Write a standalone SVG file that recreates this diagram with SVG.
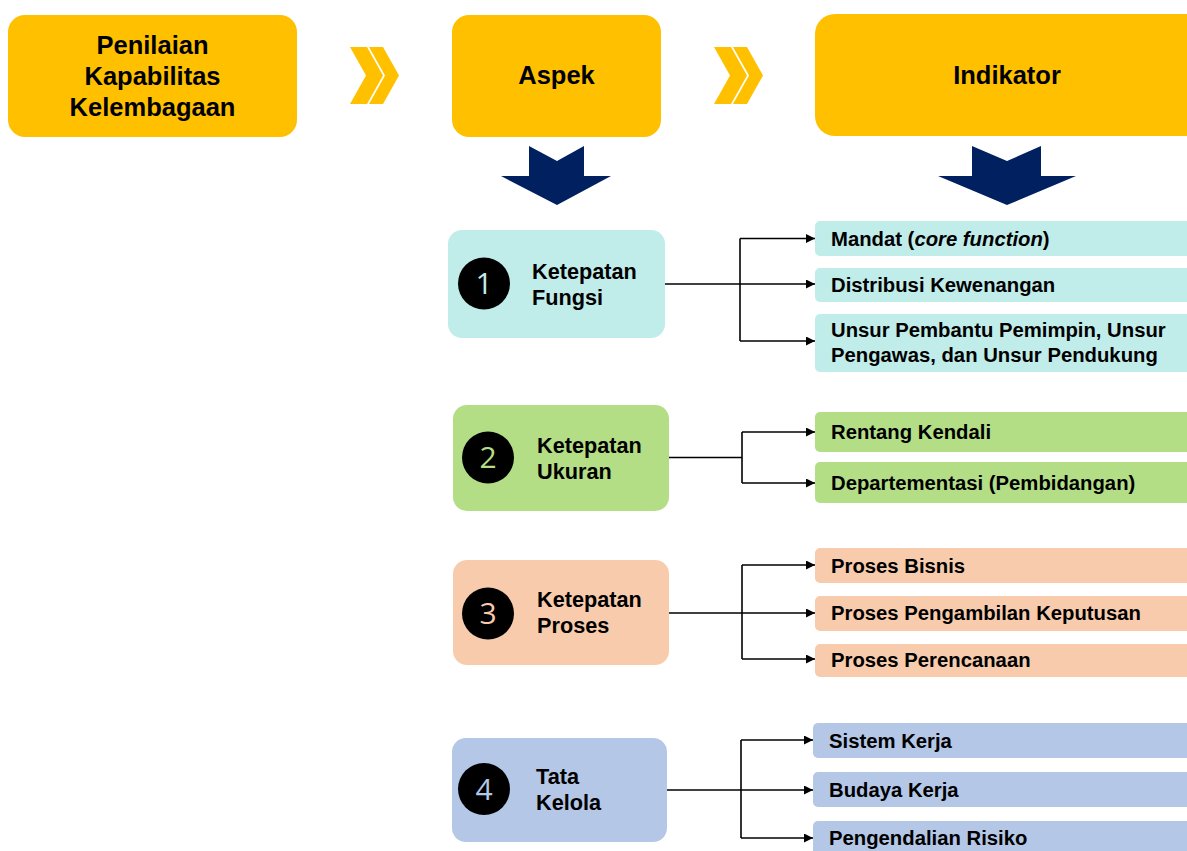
<svg xmlns="http://www.w3.org/2000/svg" width="1187" height="851" viewBox="0 0 1187 851">
<defs>
<marker id="ah" viewBox="0 0 10 10" refX="10" refY="5" markerWidth="10" markerHeight="9" markerUnits="userSpaceOnUse" orient="auto">
<path d="M0,0 L10,5 L0,10 z" fill="#000"/>
</marker>
<style>
.hdr{fill:#FFC000}
.ht{font-family:"Liberation Sans",Arial,sans-serif;font-weight:bold;font-size:25.5px;fill:#000;text-anchor:middle}
.chev{fill:#FFC000}
.down{fill:#002060}
.at{font-family:"Liberation Sans",Arial,sans-serif;font-weight:bold;font-size:21.7px;fill:#000}
.it{font-family:"Liberation Sans",Arial,sans-serif;font-weight:bold;font-size:20.3px;fill:#000}
.num{font-family:"Open Sans","Noto Sans",sans-serif;font-size:30px;text-anchor:middle}
.c1{fill:#C0ECEA}
.c2{fill:#B3DE86}
.c3{fill:#F8CBAD}
.c4{fill:#B4C7E7}
.conn{fill:none;stroke:#000;stroke-width:1.6}
</style>
</defs>
<rect width="1187" height="851" fill="#fff"/>

<g id="header-penilaian">
<rect class="hdr" x="8" y="15" width="289" height="122" rx="17"/>
<text class="ht" x="152.5" y="54">Penilaian</text>
<text class="ht" x="152.5" y="85">Kapabilitas</text>
<text class="ht" x="152.5" y="116">Kelembagaan</text>
</g>
<g id="chevron-1">
<polygon class="chev" points="350,47 367,47 383,75.5 367,104 350,104 366,75.5"/>
<polygon class="chev" points="369,47 383,47 399,75.5 383,104 369,104 385,75.5"/>
</g>
<g id="header-aspek">
<rect class="hdr" x="452" y="15" width="209" height="122" rx="17"/>
<text class="ht" x="556.5" y="84">Aspek</text>
</g>
<g id="chevron-2">
<polygon class="chev" points="714,47 731,47 747,75.5 731,104 714,104 730,75.5"/>
<polygon class="chev" points="733,47 747,47 763,75.5 747,104 733,104 749,75.5"/>
</g>
<g id="header-indikator">
<rect class="hdr" x="815" y="14" width="400" height="122" rx="20"/>
<text class="ht" x="1007" y="84">Indikator</text>
</g>
<g id="down-arrow-1">
<polygon class="down" points="529,146 557,161 584,146 584,176 611,176 557,205 501,176 529,176"/>
</g>
<g id="down-arrow-2">
<polygon class="down" points="972,146 1007,161 1041,146 1041,176 1076,176 1007,205 938,176 972,176"/>
</g>

<g id="aspek-1">
<rect class="c1" x="448" y="230" width="217" height="108" rx="14"/>
<circle cx="484" cy="283.5" r="26" fill="#000"/>
<text class="num c1" x="484" y="294">1</text>
<text class="at" x="532" y="279">Ketepatan</text>
<text class="at" x="532" y="305">Fungsi</text>
</g>
<g id="ind-1a">
<rect class="c1" x="815" y="221" width="390" height="35" rx="5"/>
<text class="it" x="831" y="246">Mandat (<tspan font-style="italic">core function</tspan>)</text>
</g>
<g id="ind-1b">
<rect class="c1" x="815" y="268" width="390" height="34" rx="5"/>
<text class="it" x="831" y="292">Distribusi Kewenangan</text>
</g>
<g id="ind-1c">
<rect class="c1" x="815" y="314" width="390" height="58" rx="5"/>
<text class="it" x="831" y="337">Unsur Pembantu Pemimpin, Unsur</text>
<text class="it" x="831" y="362">Pengawas, dan Unsur Pendukung</text>
</g>

<g id="aspek-2">
<rect class="c2" x="453" y="405" width="216" height="106" rx="14"/>
<circle cx="488" cy="457.5" r="26" fill="#000"/>
<text class="num c2" x="488" y="468">2</text>
<text class="at" x="537" y="453">Ketepatan</text>
<text class="at" x="537" y="479">Ukuran</text>
</g>
<g id="ind-2a">
<rect class="c2" x="815" y="412" width="390" height="40" rx="5"/>
<text class="it" x="831" y="439">Rentang Kendali</text>
</g>
<g id="ind-2b">
<rect class="c2" x="815" y="462" width="390" height="41" rx="5"/>
<text class="it" x="831" y="490">Departementasi (Pembidangan)</text>
</g>

<g id="aspek-3">
<rect class="c3" x="453" y="560" width="216" height="105" rx="14"/>
<circle cx="488" cy="613.5" r="26" fill="#000"/>
<text class="num c3" x="488" y="624">3</text>
<text class="at" x="537" y="607">Ketepatan</text>
<text class="at" x="537" y="633">Proses</text>
</g>
<g id="ind-3a">
<rect class="c3" x="815" y="548" width="390" height="35" rx="5"/>
<text class="it" x="831" y="573">Proses Bisnis</text>
</g>
<g id="ind-3b">
<rect class="c3" x="815" y="596" width="390" height="35" rx="5"/>
<text class="it" x="831" y="620">Proses Pengambilan Keputusan</text>
</g>
<g id="ind-3c">
<rect class="c3" x="815" y="644" width="390" height="33" rx="5"/>
<text class="it" x="831" y="667">Proses Perencanaan</text>
</g>

<g id="aspek-4">
<rect class="c4" x="452" y="738" width="215" height="104" rx="14"/>
<circle cx="484" cy="789" r="26" fill="#000"/>
<text class="num c4" x="484" y="799.5">4</text>
<text class="at" x="536" y="784">Tata</text>
<text class="at" x="536" y="810">Kelola</text>
</g>
<g id="ind-4a">
<rect class="c4" x="813" y="723" width="390" height="35" rx="5"/>
<text class="it" x="829" y="748">Sistem Kerja</text>
</g>
<g id="ind-4b">
<rect class="c4" x="813" y="772" width="390" height="35" rx="5"/>
<text class="it" x="829" y="797">Budaya Kerja</text>
</g>
<g id="ind-4c">
<rect class="c4" x="813" y="821" width="390" height="40" rx="5"/>
<text class="it" x="829" y="845">Pengendalian Risiko</text>
</g>

<g id="connectors">
<path class="conn" d="M665,284 L740,284"/>
<path class="conn" d="M740,238.5 L740,341"/>
<path class="conn" d="M740,238.5 L815,238.5" marker-end="url(#ah)"/>
<path class="conn" d="M740,284 L815,284" marker-end="url(#ah)"/>
<path class="conn" d="M740,341 L815,341" marker-end="url(#ah)"/>

<path class="conn" d="M669,457.5 L742,457.5"/>
<path class="conn" d="M742,432 L742,483"/>
<path class="conn" d="M742,432 L815,432" marker-end="url(#ah)"/>
<path class="conn" d="M742,483 L815,483" marker-end="url(#ah)"/>

<path class="conn" d="M669,613 L742,613"/>
<path class="conn" d="M742,565 L742,659"/>
<path class="conn" d="M742,565 L815,565" marker-end="url(#ah)"/>
<path class="conn" d="M742,613 L815,613" marker-end="url(#ah)"/>
<path class="conn" d="M742,659 L815,659" marker-end="url(#ah)"/>

<path class="conn" d="M667,790 L741,790"/>
<path class="conn" d="M741,740 L741,838"/>
<path class="conn" d="M741,740 L813,740" marker-end="url(#ah)"/>
<path class="conn" d="M741,790 L813,790" marker-end="url(#ah)"/>
<path class="conn" d="M741,838 L813,838" marker-end="url(#ah)"/>
</g>
</svg>
